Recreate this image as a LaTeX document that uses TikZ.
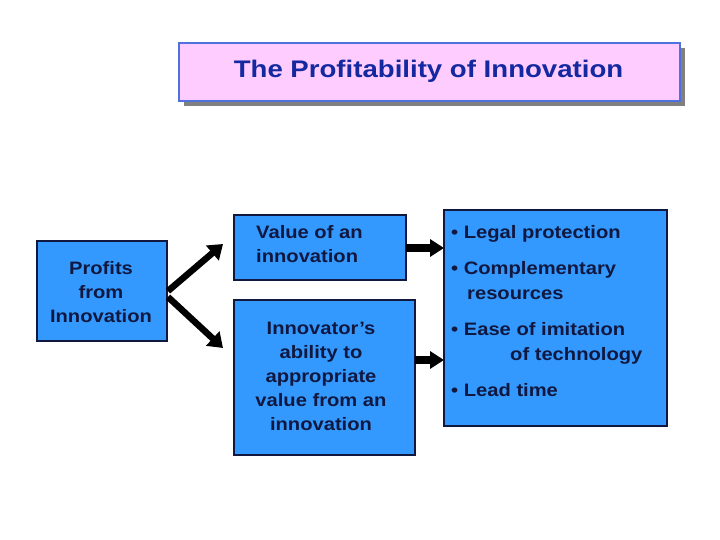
\documentclass[tikz,border=0pt]{standalone}
\usepackage{fontspec}
\setmainfont{Liberation Sans}[FakeStretch=1.12]
\newfontfamily\titlefont{Liberation Sans}[FakeStretch=1.15]
\usetikzlibrary{arrows.meta}
\definecolor{boxblue}{RGB}{51,153,255}
\definecolor{navy}{RGB}{16,24,64}
\definecolor{titlepink}{RGB}{255,204,255}
\definecolor{titleedge}{RGB}{80,112,220}
\definecolor{titletext}{RGB}{20,40,160}
\definecolor{shadowgray}{RGB}{128,128,128}
\tikzset{
  bluebox/.style={draw=navy, fill=boxblue, line width=1.5pt, inner sep=0pt, outer sep=0pt},
  boxtext/.style={text=navy, font=\bfseries\fontsize{18}{24}\selectfont, inner sep=0pt},
  fatarrow/.style={line width=6.5pt, -{Triangle[length=14pt,width=19pt]}},
  blockarrow/.style={line width=8pt, -{Triangle[length=14pt,width=17pt]}, shorten >=0pt}
}
\begin{document}
\begin{tikzpicture}[x=1pt,y=-1pt]
\useasboundingbox (0,0) rectangle (720,540);
% title
\fill[shadowgray] (184,48) rectangle (685,106);
\node[draw=titleedge, fill=titlepink, line width=2pt, minimum width=501pt, minimum height=58pt, anchor=north west, inner sep=0pt] (title) at (178,42) {};
\node[text=titletext, font=\titlefont\bfseries\fontsize{24}{28}\selectfont] (titletxt) at (428.5,71) {The Profitability of Innovation};
% boxes
\node[bluebox, minimum width=130pt, minimum height=100pt, anchor=north west] (profits) at (37,241) {};
\node[boxtext, align=center] (profitstxt) at (101,292) {Profits\\from\\Innovation};
\node[bluebox, minimum width=172pt, minimum height=65pt, anchor=north west] (value) at (234,215) {};
\node[boxtext, align=left, anchor=west] (valuetxt) at (256,244) {Value of an\\innovation};
\node[bluebox, minimum width=181pt, minimum height=155pt, anchor=north west] (approp) at (234,300) {};
\node[boxtext, align=center] (approptxt) at (321,376) {Innovator’s\\ability to\\appropriate\\value from an\\innovation};
\node[bluebox, minimum width=223pt, minimum height=216pt, anchor=north west] (factors) at (444,210) {};
\node[boxtext, align=left, anchor=north west, font=\bfseries\fontsize{18}{25}\selectfont] (factorstxt) at (451,225)
  {• Legal protection\\[11pt]
   • Complementary\\
   \hspace*{16pt}resources\\[11pt]
   • Ease of imitation\\
   \hspace*{59pt}of technology\\[11pt]
   • Lead time};
% arrows
\coordinate (upend) at (223,244);
\coordinate (downend) at (223,348);
\draw[fatarrow] (168,291) -- (upend);
\draw[fatarrow] (168,297) -- (downend);
\draw[blockarrow] (value.east |- 0,248) -- (factors.west |- 0,248);
\draw[blockarrow] (approp.east |- 0,360) -- (factors.west |- 0,360);
\end{tikzpicture}
\end{document}
